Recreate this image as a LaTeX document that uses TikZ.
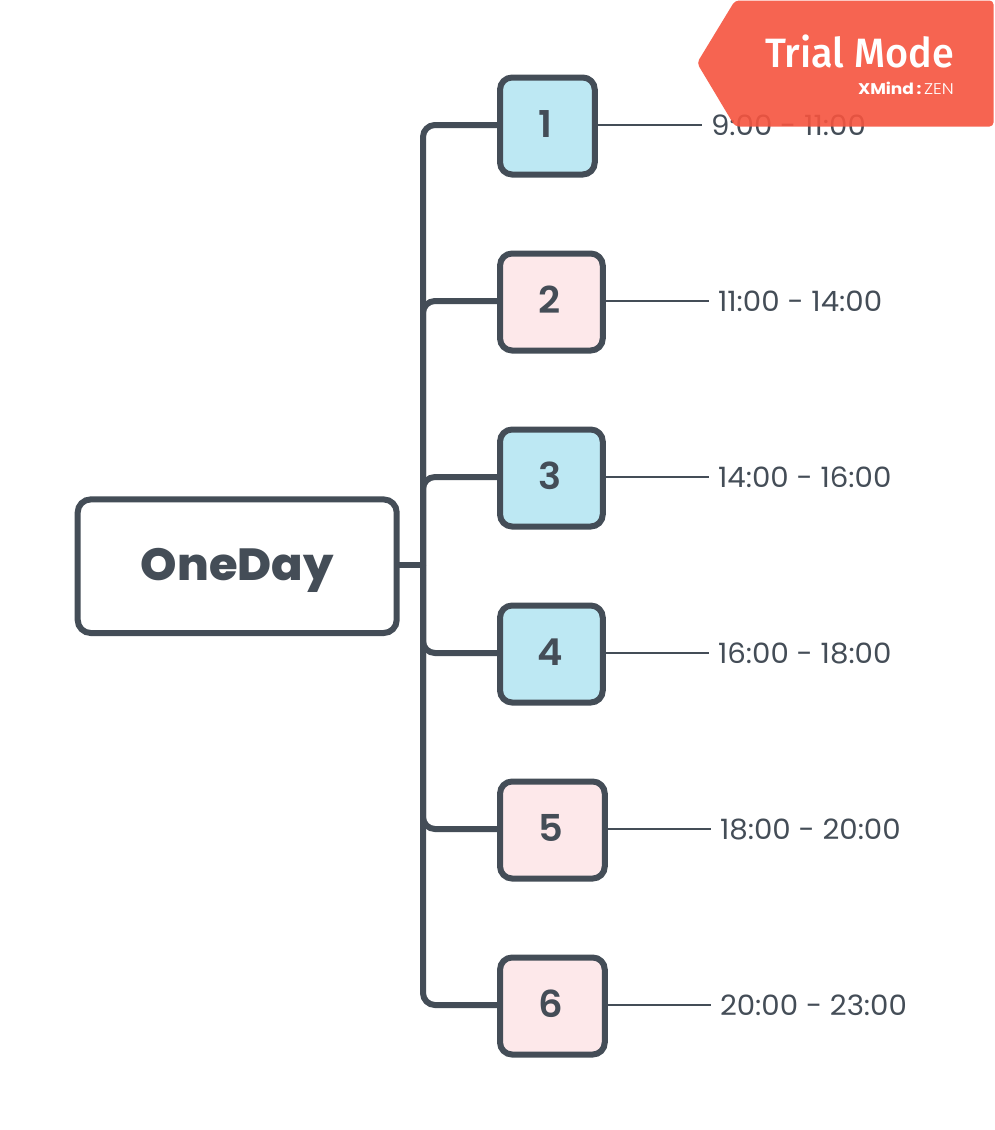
\documentclass[tikz,border=0pt]{standalone}
\usepackage{fontspec}
\setmainfont{Poppins}
\newfontfamily\timefont{Poppins}[FakeStretch=1.045]
\newfontfamily\popm{Poppins SemiBold}[FakeStretch=1.04]
\newfontfamily\popb{Poppins ExtraBold}[FakeStretch=1.03]
\newfontfamily\brandb{Poppins}[UprightFont=* Bold,FakeStretch=1.1]
\newfontfamily\brandl{Poppins Light}[FakeStretch=1.12]
\newfontfamily\fira{Fira Sans Medium}[FakeStretch=.965]
\newcommand\digit[1]{#1\kern3pt}
\definecolor{ink}{HTML}{444D57}
\definecolor{sky}{HTML}{BDE8F3}
\definecolor{rose}{HTML}{FDE8EA}
\definecolor{badge}{HTML}{F6543F}
\tikzset{
  x=1pt,y=-1pt,
  rootbox/.style={draw=ink,line width=6pt,rounded corners=13pt,fill=white,minimum width=319pt,minimum height=133.6pt,inner sep=0pt,outer sep=0pt,text=ink,text height=27.6pt,text depth=0pt,font=\popb\fontsize{45}{45}\selectfont},
  numbox/.style={draw=ink,line width=6pt,rounded corners=12pt,minimum height=97pt,inner sep=0pt,outer sep=0pt,text=ink,text height=22.6pt,text depth=0pt,font=\popm\fontsize{37}{37}\selectfont},
  timetext/.style={anchor=west,inner sep=0pt,outer sep=0pt,inner xsep=9pt,text=ink,font=\timefont\fontsize{28}{28}\selectfont},
  branch/.style={draw=ink,line width=6pt,rounded corners=12pt},
  leaf/.style={draw=ink,line width=2pt},
}
\begin{document}
\begin{tikzpicture}
\useasboundingbox (0,0) rectangle (994,1130);
\fill[white] (0,0) rectangle (994,1130);
\coordinate (rj) at (423,565);
\node[rootbox] (root) at (237.2,566.2) {OneDay};
\node[numbox,fill=sky,minimum width=94.7pt] (n1) at (547.4,126) {\digit{1}};
\node[numbox,fill=rose,minimum width=102.7pt] (n2) at (551.4,302) {\digit{2}};
\node[numbox,fill=sky,minimum width=102.7pt] (n3) at (551.4,478) {\digit{3}};
\node[numbox,fill=sky,minimum width=102.7pt] (n4) at (551.4,654) {\digit{4}};
\node[numbox,fill=rose,minimum width=104.7pt] (n5) at (552.4,830) {\digit{5}};
\node[numbox,fill=rose,minimum width=104.7pt] (n6) at (552.4,1006) {\digit{6}};
\node[timetext] (t1) at (702,125) {9:00 - 11:00};
\node[timetext] (t2) at (709,301) {11:00 - 14:00};
\node[timetext] (t3) at (709,477) {14:00 - 16:00};
\node[timetext] (t4) at (709,653) {16:00 - 18:00};
\node[timetext] (t5) at (711,829) {18:00 - 20:00};
\node[timetext] (t6) at (711,1005) {20:00 - 23:00};
\draw[branch,sharp corners] (root.east |- rj) -- (rj);
\foreach \i in {1,...,6}{
  \draw[branch] (rj) |- (n\i.west |- t\i.west);
  \draw[leaf] (n\i.east |- t\i.west) -- (t\i.west);
}
\fill[badge,fill opacity=.9,rounded corners=4pt] (735,0.5) -- (993.5,0.5) -- (993.5,126.5) -- (735,126.5) -- (697,63) -- cycle;
\node[anchor=base east,inner sep=0pt,text=white,font=\fira\fontsize{41}{41}\selectfont] (trial) at (954,67) {Trial Mode};
\node[anchor=base east,inner sep=0pt,text=white,font=\fontsize{15.5}{15.5}\selectfont] (brand) at (954,94) {{\brandb XMind}\,{\brandb:}\,{\brandl ZEN}};
\end{tikzpicture}
\end{document}
